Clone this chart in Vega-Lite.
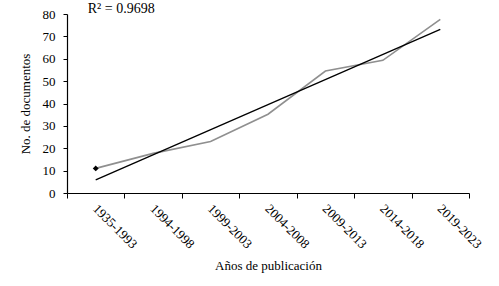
{
  "$schema": "https://vega.github.io/schema/vega-lite/v6.json",
  "autosize": "none",
  "width": 402,
  "height": 179,
  "padding": {"left": 67, "top": 14, "right": 30, "bottom": 93},
  "background": "white",
  "config": {
    "view": {"stroke": null},
    "font": "Liberation Serif",
    "axis": {"grid": false, "domainColor": "black", "tickColor": "black", "labelColor": "black", "titleColor": "black", "labelFont": "Liberation Serif", "titleFont": "Liberation Serif", "titleFontWeight": "normal", "labelFontSize": 13, "titleFontSize": 13},
    "axisY": {"values": [0,10,20,30,40,50,60,70,80], "labelOverlap": false, "tickSize": 4, "labelPadding": 8, "titlePadding": 10, "domainWidth": 1.2, "labelFlush": false}
  },
  "datasets": {
    "docs": [
      {"periodo": "1935-1993", "documentos": 11},
      {"periodo": "1994-1998", "documentos": 17.7},
      {"periodo": "1999-2003", "documentos": 23},
      {"periodo": "2004-2008", "documentos": 35.2},
      {"periodo": "2009-2013", "documentos": 54.5},
      {"periodo": "2014-2018", "documentos": 59.3},
      {"periodo": "2019-2023", "documentos": 77.6}
    ],
    "trend": [
      {"periodo": "1935-1993", "tendencia": 5.9},
      {"periodo": "2019-2023", "tendencia": 73.1}
    ]
  },
  "layer": [
    {
      "data": {"name": "docs"},
      "mark": {"type": "line", "color": "#8f8f8f", "strokeWidth": 1.6},
      "encoding": {
        "x": {"field": "periodo", "type": "ordinal", "sort": null,
          "scale": {"paddingInner": 0, "paddingOuter": 0},
          "axis": {"title": "Años de publicación", "labelAngle": 45, "tickBand": "extent", "tickSize": 5, "labelPadding": 4, "titlePadding": 8, "domainWidth": 1.2, "labelOffset": 3, "labelOverlap": false}},
        "y": {"field": "documentos", "type": "quantitative",
          "scale": {"domain": [0, 80], "nice": false},
          "axis": {"title": "No. de documentos", "values": [0,10,20,30,40,50,60,70,80], "labelOverlap": false}}
      }
    },
    {
      "data": {"name": "trend"},
      "mark": {"type": "line", "color": "black", "strokeWidth": 1.3},
      "encoding": {
        "x": {"field": "periodo", "type": "ordinal", "sort": null},
        "y": {"field": "tendencia", "type": "quantitative", "axis": {"title": "No. de documentos", "values": [0,10,20,30,40,50,60,70,80], "labelOverlap": false}}
      }
    },
    {
      "data": {"name": "docs"},
      "transform": [{"filter": "datum.periodo === '1935-1993'"}],
      "mark": {"type": "point", "shape": "diamond", "filled": true, "color": "black", "size": 35, "opacity": 1},
      "encoding": {
        "x": {"field": "periodo", "type": "ordinal", "sort": null},
        "y": {"field": "documentos", "type": "quantitative", "axis": {"title": "No. de documentos", "values": [0,10,20,30,40,50,60,70,80], "labelOverlap": false}}
      }
    },
    {
      "data": {"values": [{"etiqueta": "R² = 0.9698"}]},
      "mark": {"type": "text", "align": "left", "baseline": "bottom", "dx": -8, "dy": 2, "fontSize": 14, "font": "Liberation Serif", "color": "black"},
      "encoding": {
        "x": {"datum": "1935-1993", "type": "ordinal"},
        "y": {"datum": 80, "type": "quantitative", "axis": {"title": "No. de documentos", "values": [0,10,20,30,40,50,60,70,80], "labelOverlap": false}},
        "text": {"field": "etiqueta"}
      }
    }
  ]
}
